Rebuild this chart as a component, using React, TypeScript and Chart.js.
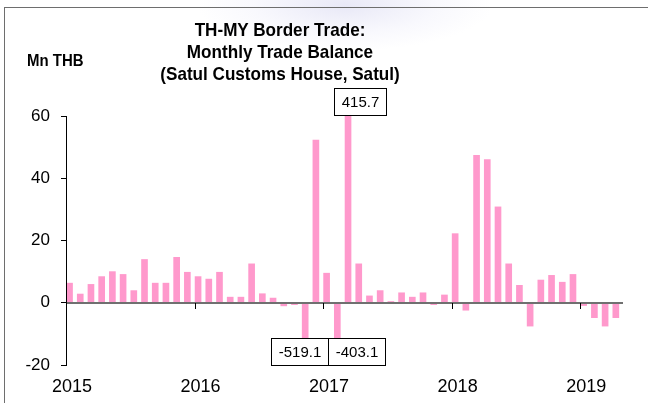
import React, { useEffect, useRef } from 'react';
import { Chart, registerables } from 'chart.js';

Chart.register(...registerables);

// ---- data ----
const years = ['2015', '2016', '2017', '2018', '2019'];
const balance2015 = [6.3, 2.8, 5.9, 8.4, 10.0, 9.1, 3.9, 13.9, 6.3, 6.3, 14.6, 9.8];
const balance2016 = [8.4, 7.6, 9.8, 1.8, 1.8, 12.5, 2.9, 1.5, -1.0, -0.6, -519.1, 52.3];
const balance2017 = [9.5, -403.1, 415.7, 12.5, 2.2, 3.9, 0.4, 3.2, 1.8, 3.2, -0.6, 2.5];
const balance2018 = [22.2, -2.4, 47.4, 46.0, 30.8, 12.5, 5.6, -7.5, 7.3, 8.8, 6.6, 9.1];
const balance2019 = [-0.9, -4.8, -7.5, -4.8];
const balance = [...balance2015, ...balance2016, ...balance2017, ...balance2018, ...balance2019];
const yTickValues = [-20, 0, 20, 40, 60];
const titleLines = ['TH-MY Border Trade:', 'Monthly Trade Balance', '(Satul Customs House, Satul)'];
const unitLabel = 'Mn THB';
// months (index into balance) whose values exceed the axis range and get a callout box
const calloutMonths = [22, 25, 26];

// ---- styles ----
const FONT = '"Liberation Sans", Arial, Helvetica, sans-serif';
const BAR_COLOR = '#FF99CC';
const BAR_ANCHOR = 0.33; // bar sits just after the start of its month
const calloutShift: Record<number, number> = { 22: -6, 25: 19, 26: 12 };

const overlayPlugin = {
  id: 'overlayPlugin',
  afterDatasetsDraw(chart: any) {
    const { ctx, chartArea, scales } = chart;
    const x = scales.x;
    const y = scales.y;
    const y0 = Math.round(y.getPixelForValue(0));
    ctx.save();
    // zero line
    ctx.strokeStyle = '#707070';
    ctx.lineWidth = 2;
    ctx.beginPath();
    ctx.moveTo(chartArea.left, y0);
    ctx.lineTo(chartArea.right, y0);
    ctx.stroke();
    // year tick marks on the zero line
    ctx.strokeStyle = '#000';
    ctx.lineWidth = 1;
    x.ticks.forEach((t: any) => {
      const px = Math.round(x.getPixelForValue(t.value)) + 0.5;
      ctx.beginPath();
      ctx.moveTo(px, y0);
      ctx.lineTo(px, y0 + 6);
      ctx.stroke();
    });
    // y axis line (drawn on top)
    const ax = Math.round(chartArea.left) + 0.5;
    ctx.beginPath();
    ctx.moveTo(ax, chartArea.top);
    ctx.lineTo(ax, chartArea.bottom);
    ctx.stroke();
    // callout boxes
    ctx.font = '15px ' + FONT;
    const meta = chart.getDatasetMeta(0);
    calloutMonths.forEach((m) => {
      const v = balance[m];
      const el = meta.data[m];
      const text = v.toFixed(1);
      const w = Math.round(ctx.measureText(text).width + 14);
      const h = 27;
      const cx = el.x + (calloutShift[m] || 0);
      const left = Math.round(cx - w / 2) + 0.5;
      const top = v > 0 ? Math.round(chartArea.top) - 1 - h + 0.5 : Math.round(chartArea.bottom) - h + 0.5;
      ctx.fillStyle = '#fff';
      ctx.fillRect(left, top, w, h);
      ctx.strokeStyle = '#000';
      ctx.strokeRect(left, top, w, h);
      ctx.fillStyle = '#000';
      ctx.textAlign = 'center';
      ctx.textBaseline = 'middle';
      ctx.fillText(text, left + w / 2, top + h / 2 + 1);
    });
    ctx.restore();
  },
};

export default function App() {
  const canvasRef = useRef<HTMLCanvasElement | null>(null);

  useEffect(() => {
    if (!canvasRef.current) return;
    const chart = new Chart(canvasRef.current, {
      type: 'bar',
      data: {
        datasets: [
          {
            label: 'Trade balance',
            data: balance.map((v, i) => ({ x: i + BAR_ANCHOR, y: v })),
            backgroundColor: BAR_COLOR,
            borderWidth: 0,
            barThickness: 6,
          },
        ],
      },
      options: {
        responsive: false,
        animation: false,
        events: [],
        layout: { padding: { left: 0, top: 116, right: 25, bottom: 0 } },
        plugins: {
          legend: { display: false },
          title: { display: false },
          tooltip: { enabled: false },
        },
        scales: {
          x: {
            type: 'linear',
            offset: false,
            min: 0,
            max: balance.length,
            afterBuildTicks: (scale: any) => {
              scale.ticks = years.map((_, i) => ({ value: i * 12 }));
            },
            afterFit: (scale: any) => {
              scale.height = 38;
            },
            grid: { display: false, drawTicks: false, offset: false },
            border: { display: false },
            ticks: {
              autoSkip: false,
              maxRotation: 0,
              padding: 11,
              labelOffset: 6,
              color: '#000',
              font: { family: FONT, size: 18 },
              callback: (v: any) => years[Math.round(Number(v) / 12)] ?? '',
            },
          },
          y: {
            type: 'linear',
            min: -20,
            max: 60,
            afterBuildTicks: (scale: any) => {
              scale.ticks = yTickValues.map((v) => ({ value: v }));
            },
            afterFit: (scale: any) => {
              scale.width = 66;
            },
            grid: {
              drawOnChartArea: false,
              drawTicks: true,
              tickLength: 5,
              tickColor: '#000',
              color: '#000',
            },
            border: { display: true, color: '#000', width: 1 },
            ticks: {
              padding: 11,
              color: '#000',
              font: { family: FONT, size: 17 },
            },
          },
        },
      },
      plugins: [overlayPlugin],
    });
    return () => chart.destroy();
  }, []);

  return (
    <div style={{ position: 'absolute', left: 0, top: 0, width: 648, height: 403, overflow: 'hidden', background: '#fff' }}>
      <div
        style={{
          position: 'absolute',
          left: 200,
          top: -40,
          width: 290,
          height: 90,
          background: 'radial-gradient(ellipse at center, rgba(214,214,240,0.55) 0%, rgba(230,230,248,0.25) 45%, rgba(255,255,255,0) 72%)',
        }}
      />
      <div
        style={{
          position: 'absolute',
          left: 4,
          top: 7,
          width: 700,
          height: 500,
          borderTop: '1px solid #6e6e6e',
          borderLeft: '1px solid #6e6e6e',
        }}
      />
      <canvas ref={canvasRef} width={648} height={403} style={{ position: 'absolute', left: 0, top: 0 }} />
      <div
        style={{
          position: 'absolute',
          left: 80,
          top: 19,
          width: 400,
          textAlign: 'center',
          fontFamily: FONT,
          fontWeight: 'bold',
          fontSize: 19,
          lineHeight: '22px',
          color: '#000',
          whiteSpace: 'nowrap',
          transform: 'scaleX(0.9)',
          transformOrigin: '200px 0',
        }}
      >
        {titleLines.map((t) => (
          <div key={t}>{t}</div>
        ))}
      </div>
      <div
        style={{
          position: 'absolute',
          left: 27,
          top: 51,
          fontFamily: FONT,
          fontWeight: 'bold',
          fontSize: 17,
          lineHeight: '20px',
          color: '#000',
          whiteSpace: 'nowrap',
          transform: 'scaleX(0.88)',
          transformOrigin: '0 0',
        }}
      >
        {unitLabel}
      </div>
    </div>
  );
}
